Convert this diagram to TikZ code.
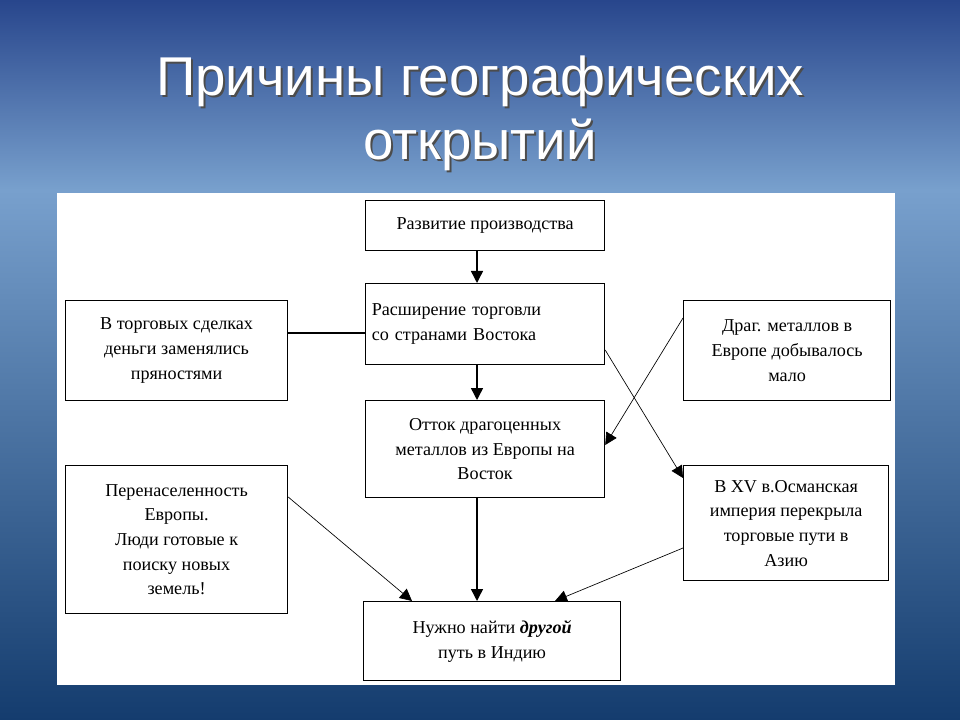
\documentclass[tikz,border=0pt]{standalone}
\usepackage{fontspec}
\setmainfont{Liberation Serif}
\newfontfamily\titlefont{Liberation Sans}
\usetikzlibrary{arrows.meta,positioning}
\definecolor{skytop}{RGB}{40,70,140}
\definecolor{skymid}{RGB}{120,160,205}
\definecolor{seabot}{RGB}{20,60,110}

\begin{document}
\begin{tikzpicture}[
    x=0.75pt, y=-0.75pt,
    box/.style={rectangle, draw, line width=0.9pt, inner sep=2pt, font=\fontsize{13.6}{18.5}\selectfont, align=center, anchor=north west},
    arrow/.style={-{Triangle[length=9pt,width=9pt]}, line width=1.1pt},
    thin arrow/.style={-{Triangle[length=9pt,width=9pt]}, line width=0.5pt}
]
% background
\fill[top color=skytop, bottom color=skymid] (0,0) rectangle (960,190);
\fill[top color=skymid, bottom color=seabot] (0,190) rectangle (960,720);
\useasboundingbox (0,0) rectangle (960,720);
\node[text=black!70, font=\titlefont\fontsize{41}{48}\selectfont, align=center] at (482,115) {Причины географических\\открытий};
\node[text=white, font=\titlefont\fontsize{41}{48}\selectfont, align=center] (title) at (480,113) {Причины географических\\открытий};
\fill[white] (57,193) rectangle (895,685);

% boxes
\node[box, minimum width=179.25pt, minimum height=37.5pt] (dev) at (365,200) {Развитие производства};
\node[box, minimum width=179.25pt, minimum height=60.75pt, align=left, text width=170pt] (trade) at (365,283) {Расширение торговли\\со странами Востока\\[6pt]};
\node[box, minimum width=179.25pt, minimum height=72.75pt] (outflow) at (365,400) {Отток драгоценных\\металлов из Европы на\\Восток};
\node[box, minimum width=166.5pt, minimum height=75pt] (money) at (65,300) {В торговых сделках\\деньги заменялись\\пряностями};
\node[box, minimum width=166.5pt, minimum height=111pt] (overpop) at (65,465) {Перенаселенность\\Европы.\\Люди готовые к\\поиску новых\\земель!};
\node[box, minimum width=155.25pt, minimum height=75pt] (metals) at (683,300) {Драг. металлов в\\Европе добывалось\\мало};
\node[box, minimum width=153.75pt, minimum height=86.25pt] (ottoman) at (683,465) {В XV в.Османская\\империя перекрыла\\торговые пути в\\Азию};
\node[box, minimum width=192.75pt, minimum height=59.25pt] (goal) at (363,601) {Нужно найти \textbf{\textit{другой}}\\путь в Индию};

% connectors
\draw[arrow] (dev.south -| 477,0) -- (trade.north -| 477,0);
\draw[arrow] (trade.south -| 477,0) -- (outflow.north -| 477,0);
\draw[arrow] (outflow.south -| 477,0) -- (goal.north -| 477,0);
\draw[line width=0.9pt] (money.east |- 0,333) -- (trade.west |- 0,333);
\draw[thin arrow] (trade.east |- 0,350) -- (ottoman.west |- 0,478);
\draw[thin arrow] (metals.west |- 0,318) -- (outflow.east |- 0,445);
\draw[thin arrow] (overpop.east |- 0,497) -- (goal.north -| 412,0);
\draw[thin arrow] (ottoman.west |- 0,548) -- (goal.north -| 555,0);
\end{tikzpicture}
\end{document}
